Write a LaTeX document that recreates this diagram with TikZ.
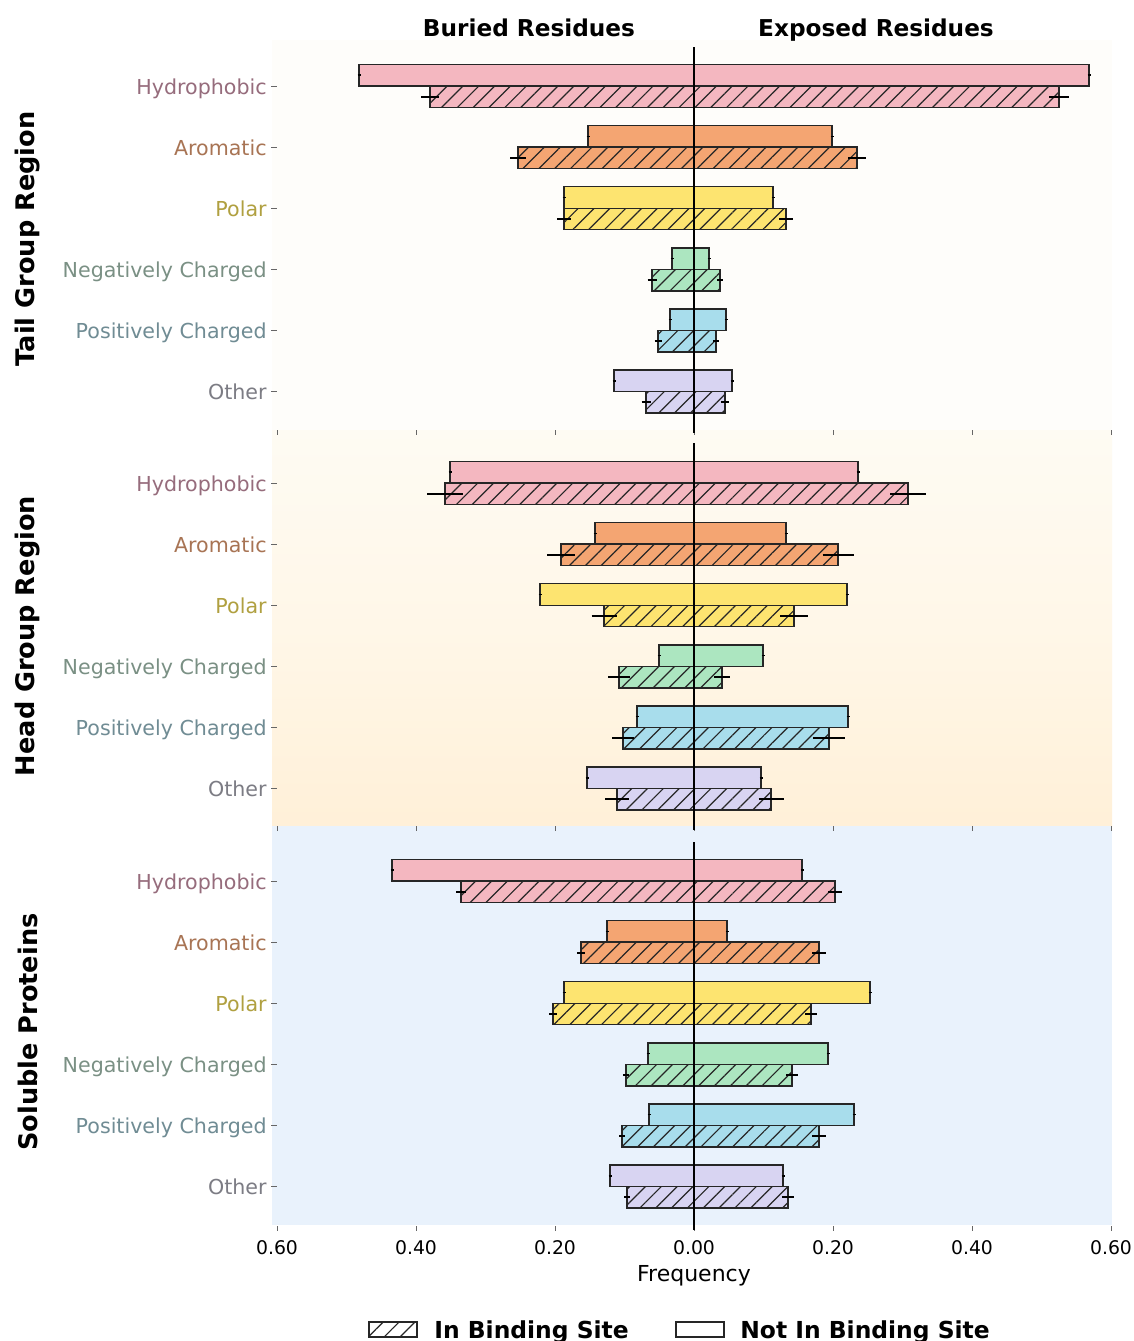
\documentclass[tikz,border=0pt]{standalone}
\usepackage{fontspec}
\setmainfont{DejaVu Sans}
\usetikzlibrary{patterns.meta}
\definecolor{cHyd}{RGB}{244,183,192}
\definecolor{cAro}{RGB}{244,165,114}
\definecolor{cPol}{RGB}{253,228,112}
\definecolor{cNeg}{RGB}{172,230,192}
\definecolor{cPos}{RGB}{168,221,236}
\definecolor{cOth}{RGB}{216,212,242}
\definecolor{tHyd}{RGB}{150,108,124}
\definecolor{tAro}{RGB}{168,116,84}
\definecolor{tPol}{RGB}{176,160,64}
\definecolor{tNeg}{RGB}{122,144,132}
\definecolor{tPos}{RGB}{112,140,148}
\definecolor{tOth}{RGB}{124,124,132}
\definecolor{bgA}{RGB}{254,253,250}
\definecolor{bgBt}{RGB}{254,251,243}
\definecolor{bgBm}{RGB}{255,247,232}
\definecolor{bgBb}{RGB}{255,240,216}
\definecolor{bgC}{RGB}{233,242,252}
\tikzset{
  barline/.style={draw=black!85,line width=0.7pt},
  hatch/.style={pattern={Lines[angle=45,distance=5.6pt,line width=0.6pt]},pattern color=black!85},
  errline/.style={black,line width=0.8pt},
  zeroline/.style={black,line width=1pt},
  tickc/.style={black!60,line width=0.5pt},
  rowlab/.style={font=\fontsize{10.3}{12}\selectfont,inner sep=0pt},
  ticklab/.style={font=\fontsize{9.4}{11}\selectfont,inner sep=0pt,anchor=base},
  coltitle/.style={font=\bfseries\fontsize{11.6}{14}\selectfont,inner sep=0pt,anchor=base},
  sidetitle/.style={font=\bfseries\fontsize{12.8}{15}\selectfont,inner sep=0pt,rotate=90},
  legtext/.style={font=\bfseries\fontsize{11.7}{14}\selectfont,inner sep=0pt,anchor=base west}
}
\newcommand{\myrow}[8]{%
  \fill[#2] (#3,#1-21.5) rectangle (#4,#1);
  \draw[barline] (#3,#1-21.5) rectangle (#4,#1);
  \fill[#2] (#5,#1) rectangle (#6,#1+21.5);
  \path[hatch] (#5,#1) rectangle (#6,#1+21.5);
  \draw[barline] (#5,#1) rectangle (#6,#1+21.5);
  \draw[errline] (#3-1.5,#1-10.75) -- (#3+1.5,#1-10.75);
  \draw[errline] (#4-1.5,#1-10.75) -- (#4+1.5,#1-10.75);
  \draw[errline] (#5-#7,#1+10.75) -- (#5+#7,#1+10.75);
  \draw[errline] (#6-#8,#1+10.75) -- (#6+#8,#1+10.75);
}
\begin{document}
\begin{tikzpicture}[x=0.5pt,y=-0.5pt]
\useasboundingbox[fill=white] (0,0) rectangle (1134,1341);
% panel backgrounds
\fill[bgA] (272,40) rectangle (1112,430);
\shade[top color=bgBt,bottom color=bgBb,middle color=bgBm] (272,430) rectangle (1112,826);
\fill[bgC] (272,826) rectangle (1112,1225);

% column titles
\node[coltitle] (tburied) at (529,36) {Buried Residues};
\node[coltitle] (texposed) at (876,36) {Exposed Residues};

% side titles
\node[sidetitle] (side1) at (28,239) {Tail Group Region};
\node[sidetitle] (side2) at (28,636) {Head Group Region};
\node[sidetitle] (side3) at (28,1032) {Soluble Proteins};

% row labels and ticks
\foreach \p/\oy in {1/86,2/483,3/881}{
  \foreach \lab/\col [count=\i from 0] in {Hydrophobic/tHyd,Aromatic/tAro,Polar/tPol,Negatively Charged/tNeg,Positively Charged/tPos,Other/tOth}{
    \node[rowlab,text=\col,anchor=base east] (lab\p\i) at (267,\oy+61.1*\i+8) {\lab};
    \draw[tickc] (271,\oy+61.1*\i) -- (276.5,\oy+61.1*\i);
  }
}

% x tick marks at panel bottoms
\foreach \yb in {430,826,1226}{
  \foreach \xt in {277,416,555,694,833,972,1111}{
    \draw[tickc] (\xt,\yb) -- (\xt,\yb+5);
  }
}

% Panel 1: Tail Group Region
\myrow{86}{cHyd}{359}{1089}{430}{1059}{9}{10}
\myrow{147.1}{cAro}{588}{832}{518}{857}{8}{9}
\myrow{208.2}{cPol}{564}{773}{564}{786}{7}{7}
\myrow{269.3}{cNeg}{672}{709}{652}{720}{4.5}{3}
\myrow{330.4}{cPos}{670}{726}{658}{716}{3.5}{3}
\myrow{391.5}{cOth}{614}{732}{646}{725}{4.5}{4}

% Panel 2: Head Group Region
\myrow{483}{cHyd}{450}{858}{445}{908}{18}{18}
\myrow{544.1}{cAro}{595}{786}{561}{838}{14}{15.5}
\myrow{605.2}{cPol}{540}{847}{604}{794}{12.5}{14}
\myrow{666.3}{cNeg}{659}{763}{619}{722}{11}{8}
\myrow{727.4}{cPos}{637}{848}{623}{829}{11}{16}
\myrow{788.5}{cOth}{587}{761}{617}{771}{12}{12.5}

% Panel 3: Soluble Proteins
\myrow{881}{cHyd}{392}{802}{461}{835}{5}{7}
\myrow{942.1}{cAro}{607}{727}{581}{819}{4}{7}
\myrow{1003.2}{cPol}{564}{870}{553}{811}{4}{6}
\myrow{1064.3}{cNeg}{648}{828}{626}{792}{3}{6}
\myrow{1125.4}{cPos}{649}{854}{622}{819}{3}{7}
\myrow{1186.5}{cOth}{610}{783}{627}{788}{3}{6}

% zero lines
\draw[zeroline] (694,47) -- (694,433);
\draw[zeroline] (694,443) -- (694,830);
\draw[zeroline] (694,842) -- (694,1230);

% x tick labels
\node[ticklab] (xl1) at (277,1254) {0.60};
\node[ticklab] (xl2) at (416,1254) {0.40};
\node[ticklab] (xl3) at (555,1254) {0.20};
\node[ticklab] (xl4) at (694,1254) {0.00};
\node[ticklab] (xl5) at (833,1254) {0.20};
\node[ticklab] (xl6) at (972,1254) {0.40};
\node[ticklab] (xl7) at (1111,1254) {0.60};
\node[font=\fontsize{11}{13}\selectfont,inner sep=0pt,anchor=base] (xlabel) at (694,1281) {Frequency};

% legend
\path[hatch,draw=black!85,line width=0.7pt] (369,1322) rectangle (417,1337);
\node[legtext] (leg1) at (434,1338) {In Binding Site};
\draw[black!85,line width=0.7pt] (676,1322) rectangle (724,1337);
\node[legtext] (leg2) at (740,1338) {Not In Binding Site};
\end{tikzpicture}
\end{document}
